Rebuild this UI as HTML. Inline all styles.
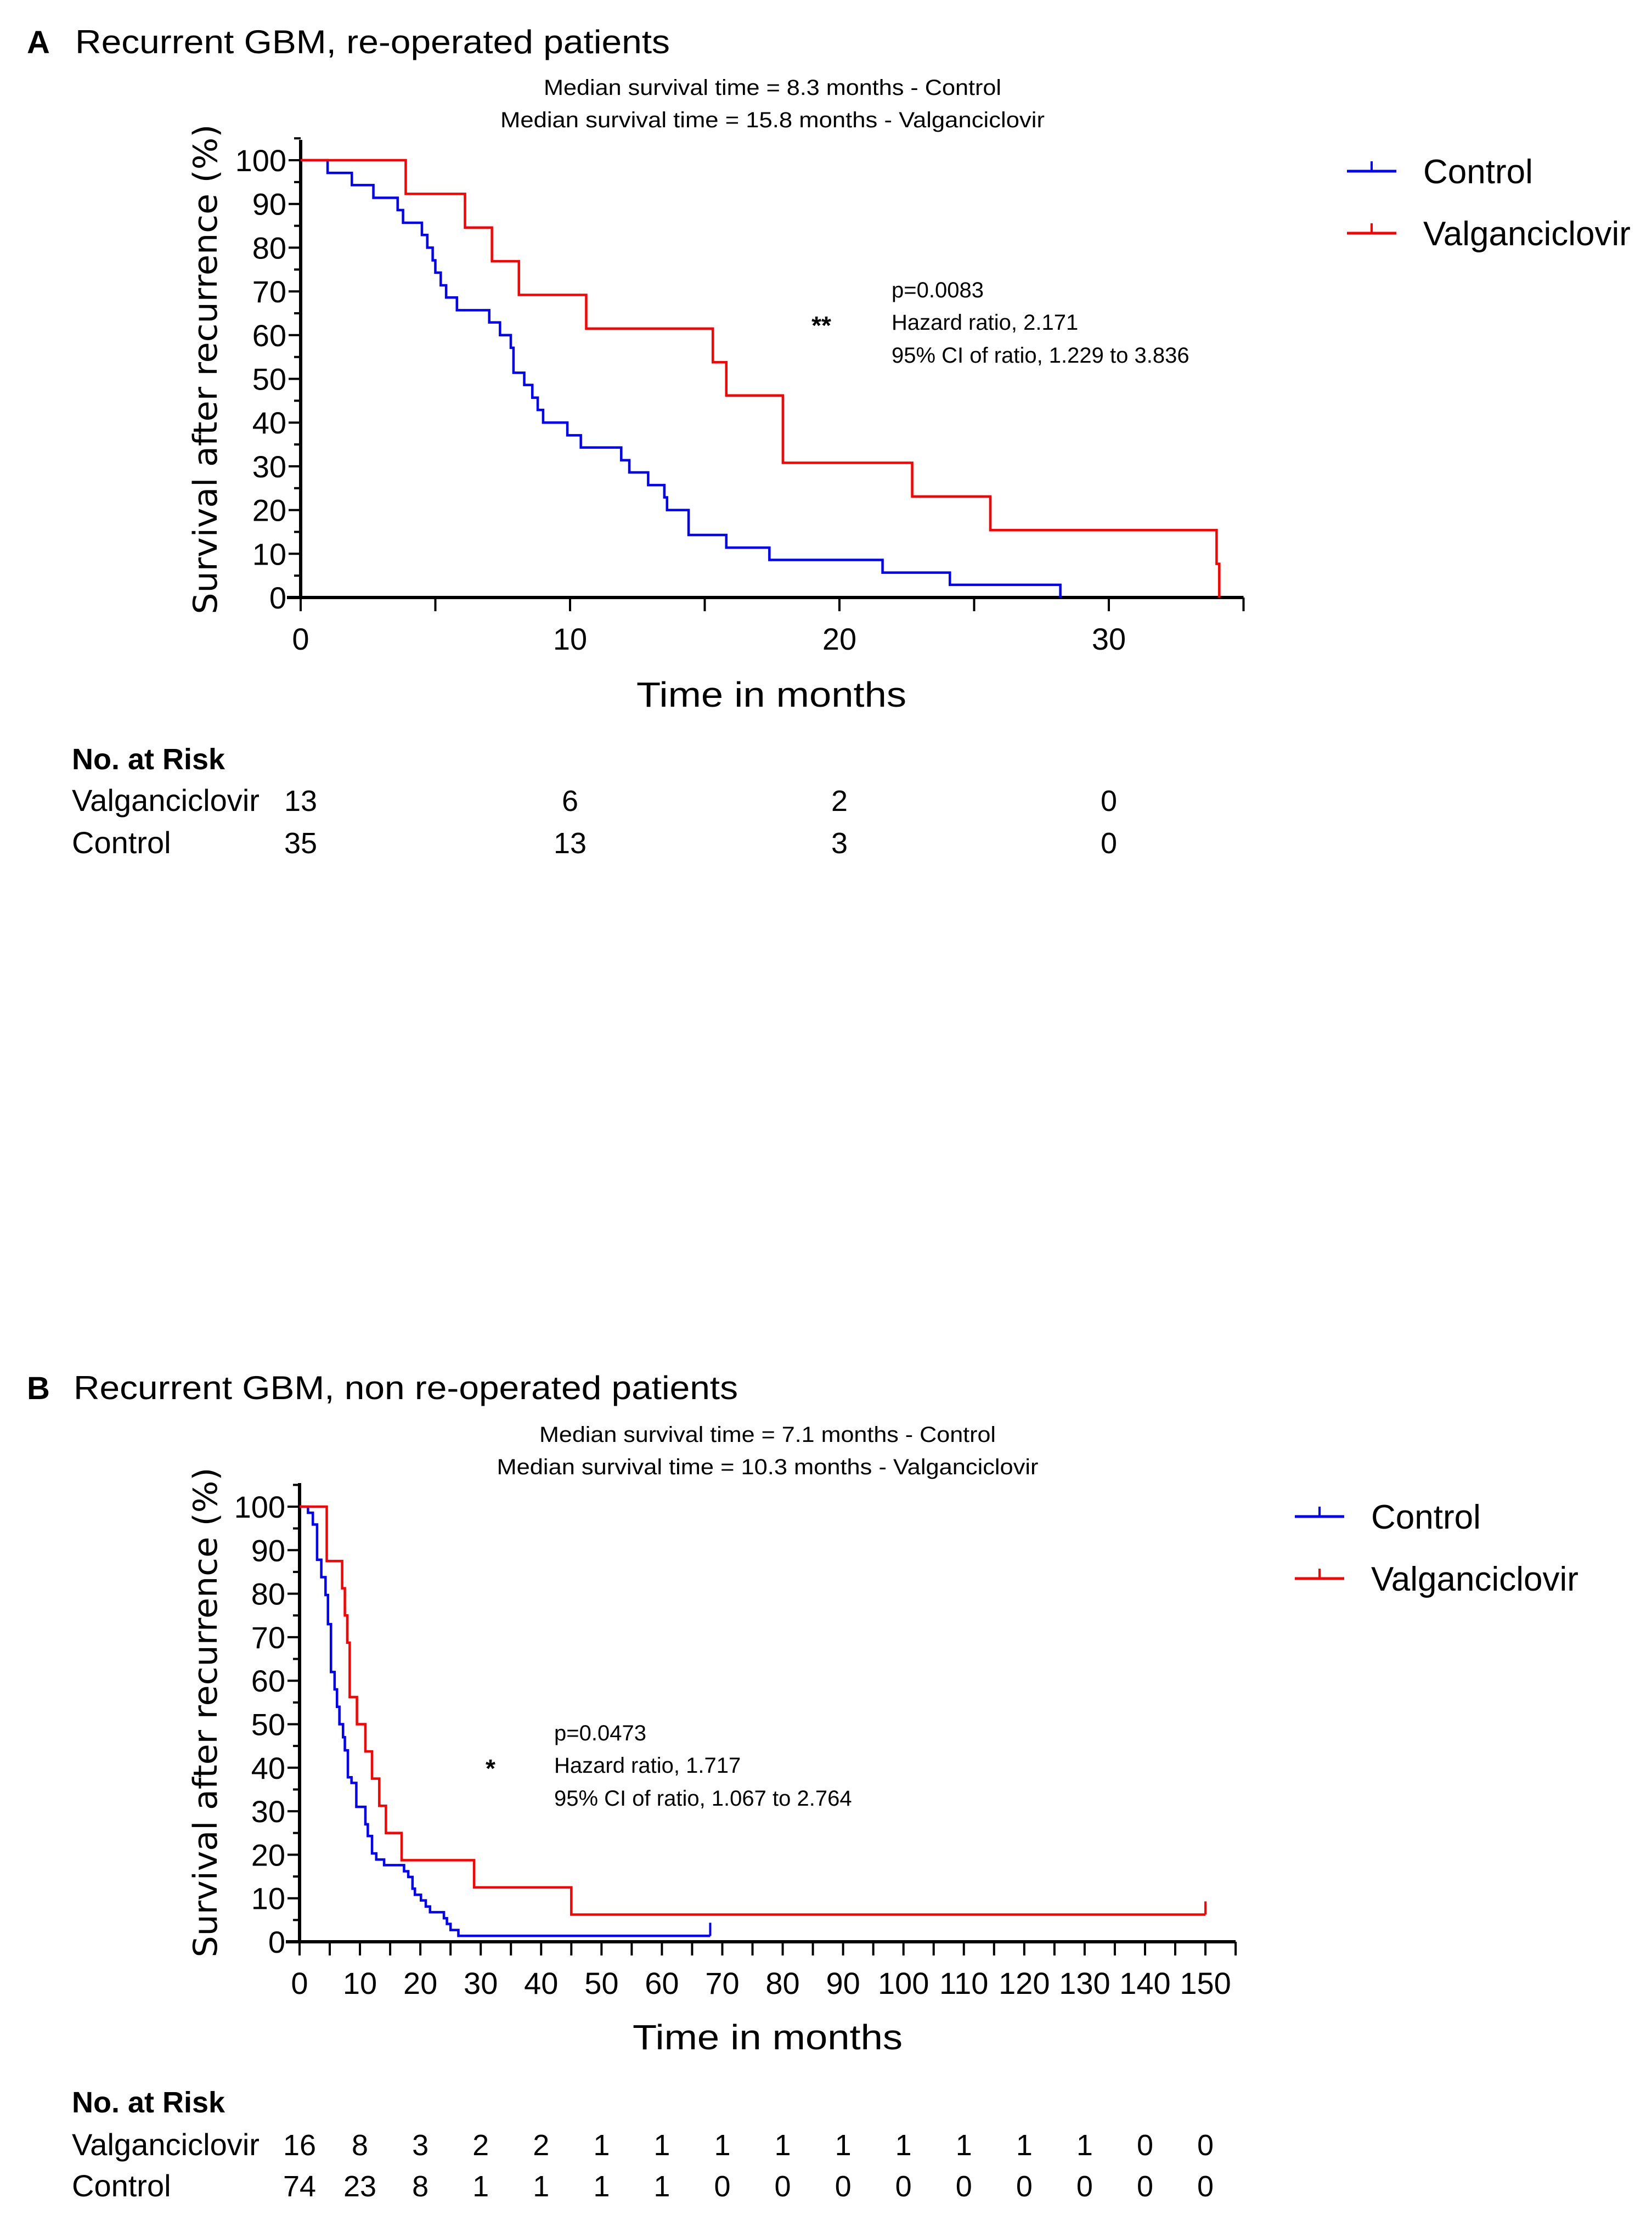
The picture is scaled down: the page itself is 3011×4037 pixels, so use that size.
<!DOCTYPE html>
<html><head><meta charset="utf-8"><title>Kaplan-Meier survival curves</title>
<style>
html,body{margin:0;padding:0;background:#fff;}
svg{display:block;}
text{font-family:"Liberation Sans",sans-serif;fill:#000;}
</style></head>
<body>
<svg id="fig" xmlns="http://www.w3.org/2000/svg" width="3011" height="4037" viewBox="0 0 3011 4037">
<rect x="0" y="0" width="3011" height="4037" fill="#fff"/>
<g id="panelA"></g>
<g id="panelB"></g>
</svg>
<script>
// ---------- Panel A data ----------
const aCtrlTimes = [0,1.0,1.9,2.7,3.6,3.8,4.5,4.7,4.9,5.0,5.2,5.4,5.8,7.0,7.4,7.8,7.9,8.3,8.6,8.8,9.0,9.9,10.4,11.9,12.2,12.9,13.5,13.6,14.4,15.8,17.4,21.6,24.1,28.2];
const aCtrlSurv  = [100,97.1,94.3,91.4,88.6,85.7,82.9,80.0,77.1,74.3,71.4,68.6,65.7,62.9,60.0,57.1,51.4,48.6,45.7,42.9,40.0,37.1,34.3,31.4,28.6,25.7,22.9,20.0,14.3,11.4,8.6,5.7,2.9,0];
const aValgTimes = [0,3.9,6.1,7.1,8.1,10.6,15.3,15.8,17.9,22.7,25.6,34.0,34.1];
const aValgSurv  = [100,92.3,84.6,76.9,69.2,61.5,53.8,46.2,30.8,23.1,15.4,7.7,0];
const aXTicks = [0,10,20,30];
const aYTicks = [0,10,20,30,40,50,60,70,80,90,100];
const aRiskLabels = ["13","6","2","0"];
const aRiskCtrl = ["35","13","3","0"];
const aRiskTimes = [0,10,20,30];

// ---------- Panel B data ----------
const bCtrlTimes = [0,1.4,2.2,2.9,3.6,4.3,4.7,5.2,5.8,6.2,6.6,7.2,7.5,8.0,8.6,9.4,10.9,11.3,12.0,12.7,14.0,17.3,18.0,18.7,19.1,20.1,20.9,21.6,23.9,24.4,25.0,26.3];
const bCtrlSurv  = [100,98.6,95.9,87.8,83.8,79.7,73.0,62.0,58.0,54.0,50.0,47.0,44.0,37.8,36.5,31.0,27.0,24.3,20.3,18.9,17.6,16.2,14.9,12.2,10.8,9.5,8.1,6.8,5.4,4.1,2.7,1.35];
const bCtrlEnd = 68;
const bValgTimes = [0,4.5,7.05,7.5,7.9,8.3,9.5,10.9,12.0,13.2,14.3,16.9,28.9,45.0];
const bValgSurv  = [100,87.5,81.25,75,68.75,56.25,50,43.75,37.5,31.25,25,18.75,12.5,6.25];
const bValgEnd = 150;
const bXTicks = [0,10,20,30,40,50,60,70,80,90,100,110,120,130,140,150];
const bYTicks = [0,10,20,30,40,50,60,70,80,90,100];
const bRiskValg = ["16","8","3","2","2","1","1","1","1","1","1","1","1","1","0","0"];
const bRiskCtrl = ["74","23","8","1","1","1","1","0","0","0","0","0","0","0","0","0"];

const NS = "http://www.w3.org/2000/svg";
function mk(parent, tag, attrs, txt){
  const e = document.createElementNS(NS, tag);
  for (const k in attrs) e.setAttribute(k, attrs[k]);
  if (txt !== undefined) e.textContent = txt;
  parent.appendChild(e);
  return e;
}

function stepPath(times, surv, endT, sx, sy){
  let d = "M" + sx(times[0]) + "," + sy(surv[0]);
  for (let i = 1; i < times.length; i++){
    d += " H" + sx(times[i]) + " V" + sy(surv[i]);
  }
  if (endT !== null) d += " H" + sx(endT);
  return d;
}

function drawPanel(g, cfg){
  const sx = t => cfg.x0 + t * cfg.pxPerMonth;
  const sy = v => cfg.y0 - v * cfg.pxPerPct;
  // title
  let t = mk(g, "text", {x: 49, y: cfg.titleY, "font-size": 58, "font-weight": "bold"}, cfg.letter);
  
  
  t = mk(g, "text", {x: cfg.titleX, y: cfg.titleY, "font-size": 60, textLength: cfg.titleW, lengthAdjust: "spacingAndGlyphs"}, cfg.title);
  
  
  // medians
  t = mk(g, "text", {x: cfg.medX, y: cfg.med1Y, "font-size": 40, "text-anchor": "middle", textLength: cfg.med1W, lengthAdjust: "spacingAndGlyphs"}, cfg.med1);
  
  
  t = mk(g, "text", {x: cfg.medX, y: cfg.med2Y, "font-size": 40, "text-anchor": "middle", textLength: cfg.med2W, lengthAdjust: "spacingAndGlyphs"}, cfg.med2);
  
  
  // y axis title
  t = mk(g, "text", {x: 0, y: 0, "font-size": 60, "text-anchor": "middle", textLength: 893, lengthAdjust: "spacingAndGlyphs",
    transform: "translate(" + (cfg.yTitleX) + "," + cfg.yTitleY + ") rotate(-90)", style: "font-family:'DejaVu Sans',sans-serif"}, "Survival after recurrence (%)");
  
  
  // axes
  const ax = mk(g, "g", {stroke: "#000", "stroke-width": 6, fill: "none"});
  
  
  let l = mk(ax, "line", {x1: cfg.x0, y1: cfg.yTop, x2: cfg.x0, y2: cfg.y0 + 3});
  
  
  l = mk(ax, "line", {x1: cfg.x0 - 25, y1: cfg.y0, x2: sx(cfg.xMax), y2: cfg.y0});
  
  
  // y ticks
  cfg.yTicks.forEach(v => {
    mk(ax, "line", {x1: cfg.x0 - 22, y1: sy(v), x2: cfg.x0, y2: sy(v), "stroke-width": 4});
    mk(ax, "line", {x1: cfg.x0 - 12, y1: sy(v + 5), x2: cfg.x0, y2: sy(v + 5), "stroke-width": 4});
    const tl = mk(g, "text", {x: cfg.x0 - 26, y: sy(v) + 20, "font-size": 56, "text-anchor": "end"}, String(v));
    
    
  });
  // x ticks
  cfg.xTicks.forEach(v => {
    mk(ax, "line", {x1: sx(v), y1: cfg.y0, x2: sx(v), y2: cfg.y0 + 25, "stroke-width": 4});
    if (sx(v + cfg.xTickStep / 2) <= sx(cfg.xMax)) mk(ax, "line", {x1: sx(v + cfg.xTickStep / 2), y1: cfg.y0, x2: sx(v + cfg.xTickStep / 2), y2: cfg.y0 + 25, "stroke-width": 4});
    const tl = mk(g, "text", {x: sx(v), y: cfg.y0 + 95, "font-size": 56, "text-anchor": "middle"}, String(v));
    
    
  });
  t = mk(g, "text", {x: cfg.xTitleX, y: cfg.xTitleY, "font-size": 64, "text-anchor": "middle", textLength: 492, lengthAdjust: "spacingAndGlyphs"}, "Time in months");
  
  
  // curves
  let p = mk(g, "path", {d: stepPath(cfg.ctrlT, cfg.ctrlS, cfg.ctrlEnd, sx, sy), stroke: "#0000ff", "stroke-width": 4.5, fill: "none"});
  
  
  p = mk(g, "path", {d: stepPath(cfg.valgT, cfg.valgS, cfg.valgEnd, sx, sy), stroke: "#ff0000", "stroke-width": 4.5, fill: "none"});
  
  
  if (cfg.ctrlEnd !== null){
    const lv = cfg.ctrlS[cfg.ctrlS.length - 1];
    const c = mk(g, "line", {x1: sx(cfg.ctrlEnd), y1: sy(lv), x2: sx(cfg.ctrlEnd), y2: sy(lv) - 24, stroke: "#0000ff", "stroke-width": 4});
    
    
  }
  if (cfg.valgEnd !== null){
    const lv = cfg.valgS[cfg.valgS.length - 1];
    const c = mk(g, "line", {x1: sx(cfg.valgEnd), y1: sy(lv), x2: sx(cfg.valgEnd), y2: sy(lv) - 24, stroke: "#ff0000", "stroke-width": 4});
    
    
  }
  // stats
  t = mk(g, "text", {x: cfg.starX, y: cfg.statY[1] + 22, "font-size": 46, "font-weight": "bold", "text-anchor": "middle"}, cfg.star);
  
  
  cfg.stats.forEach((s, i) => {
    const st = mk(g, "text", {x: cfg.statX, y: cfg.statY[i] + 14, "font-size": 40}, s);
    
    
  });
  // legend
  const lg = mk(g, "g", {});
  
  
  [["Control", "#0000ff", cfg.legY[0]], ["Valganciclovir", "#ff0000", cfg.legY[1]]].forEach(([n, c, y]) => {
    const e = mk(lg, "g", {});
    
    
    mk(e, "line", {x1: cfg.legX, y1: y, x2: cfg.legX + 90, y2: y, stroke: c, "stroke-width": 5});
    mk(e, "line", {x1: cfg.legX + 45, y1: y, x2: cfg.legX + 45, y2: y - 18, stroke: c, "stroke-width": 4});
    mk(e, "text", {x: cfg.legTX, y: y + 22, "font-size": 62}, n);
  });
  // at risk
  t = mk(g, "text", {x: 131, y: cfg.riskY[0] + 19, "font-size": 54, "font-weight": "bold"}, "No. at Risk");
  
  
  t = mk(g, "text", {x: 131, y: cfg.riskY[1] + 20, "font-size": 56, textLength: 342, lengthAdjust: "spacingAndGlyphs"}, "Valganciclovir");
  
  
  t = mk(g, "text", {x: 131, y: cfg.riskY[2] + 20, "font-size": 56}, "Control");
  
  
  cfg.riskX.forEach((x, i) => {
    const a = mk(g, "text", {x: x, y: cfg.riskY[1] + 20, "font-size": 54, "text-anchor": "middle"}, cfg.riskV[i]);
    
    
    const b = mk(g, "text", {x: x, y: cfg.riskY[2] + 20, "font-size": 54, "text-anchor": "middle"}, cfg.riskC[i]);
    
    
  });
}

const aX0 = 548, aPPM = 49.1;
drawPanel(document.getElementById("panelA"), {
  letter: "A", title: "Recurrent GBM, re-operated patients", titleX: 137, titleY: 97, titleW: 1084,
  med1: "Median survival time = 8.3 months - Control", med2: "Median survival time = 15.8 months - Valganciclovir",
  medX: 1408, med1Y: 173, med2Y: 232, med1W: 834, med2W: 992,
  yTitleX: 395, yTitleY: 673,
  x0: aX0, y0: 1089, pxPerMonth: aPPM, pxPerPct: 7.97, yTop: 255, xMax: 35, xTickStep: 10,
  xTicks: aXTicks, yTicks: aYTicks, xTitleX: 1406, xTitleY: 1288,
  ctrlT: aCtrlTimes, ctrlS: aCtrlSurv, ctrlEnd: null, valgT: aValgTimes, valgS: aValgSurv, valgEnd: null,
  star: "**", starX: 1497, statX: 1625, statY: [528, 587, 647],
  stats: ["p=0.0083", "Hazard ratio, 2.171", "95% CI of ratio, 1.229 to 3.836"],
  legX: 2455, legTX: 2594, legY: [312, 425],
  riskY: [1383, 1458, 1535],
  riskX: aRiskTimes.map(t => aX0 + t * aPPM), riskV: aRiskLabels, riskC: aRiskCtrl
});

const bX0 = 546, bPPM = 11.007;
drawPanel(document.getElementById("panelB"), {
  letter: "B", title: "Recurrent GBM, non re-operated patients", titleX: 134, titleY: 2550, titleW: 1211,
  med1: "Median survival time = 7.1 months - Control", med2: "Median survival time = 10.3 months - Valganciclovir",
  medX: 1399, med1Y: 2628, med2Y: 2687, med1W: 832, med2W: 987,
  yTitleX: 395, yTitleY: 3121,
  x0: bX0, y0: 3539, pxPerMonth: bPPM, pxPerPct: 7.93, yTop: 2703, xMax: 155, xTickStep: 10,
  xTicks: bXTicks, yTicks: bYTicks, xTitleX: 1399, xTitleY: 3735,
  ctrlT: bCtrlTimes, ctrlS: bCtrlSurv, ctrlEnd: bCtrlEnd, valgT: bValgTimes, valgS: bValgSurv, valgEnd: bValgEnd,
  star: "*", starX: 894, statX: 1010, statY: [3158, 3217, 3277],
  stats: ["p=0.0473", "Hazard ratio, 1.717", "95% CI of ratio, 1.067 to 2.764"],
  legX: 2360, legTX: 2499, legY: [2764, 2877],
  riskY: [3831, 3908, 3983],
  riskX: bXTicks.map(t => bX0 + t * bPPM), riskV: bRiskValg, riskC: bRiskCtrl
});
</script>
</body></html>
